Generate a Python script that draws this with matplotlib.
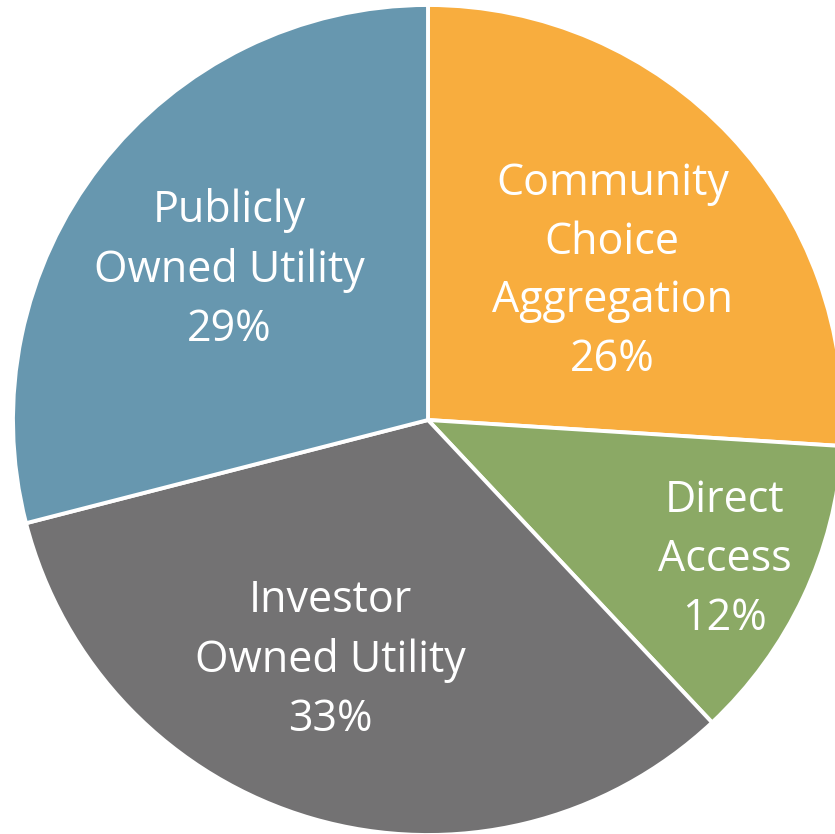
import numpy as np
import matplotlib
matplotlib.use("Agg")
import matplotlib.pyplot as plt

# Slices, clockwise from 12 o'clock
labels = ["Community\nChoice\nAggregation", "Direct\nAccess",
          "Investor\nOwned Utility", "Publicly\nOwned Utility"]
shares = [26, 12, 33, 29]
colors = ["#F8AD3E", "#8BA965", "#737273", "#6797AF"]

# label placement: fraction of radius and angle nudge (deg)
label_dist = [0.57, 0.79, 0.625, 0.60]
label_turn = [-4.4, 0.0, -6.0, 0.7]

W, H = 835, 834
fig = plt.figure(figsize=(W / 100, H / 100), dpi=100)
ax = fig.add_axes([0, 0, 1, 1])

cx, cy, r = 428, H - 420, 415
wedges, _ = ax.pie(shares, colors=colors, startangle=90, counterclock=False,
                   radius=r, center=(cx, cy),
                   wedgeprops=dict(edgecolor="white", linewidth=2.8))

for w, lab, pct, d, t in zip(wedges, labels, shares, label_dist, label_turn):
    ang = np.deg2rad((w.theta1 + w.theta2) / 2 + t)
    x = cx + d * r * np.cos(ang)
    y = cy + d * r * np.sin(ang)
    ax.text(x, y, f"{lab}\n{pct}%", ha="center", va="center", color="white",
            fontsize=31, family="Open Sans", linespacing=1.43)

ax.set_xlim(0, W)
ax.set_ylim(0, H)
ax.set_aspect("equal")
ax.axis("off")

fig.savefig("out.png", dpi=100, facecolor="white")
